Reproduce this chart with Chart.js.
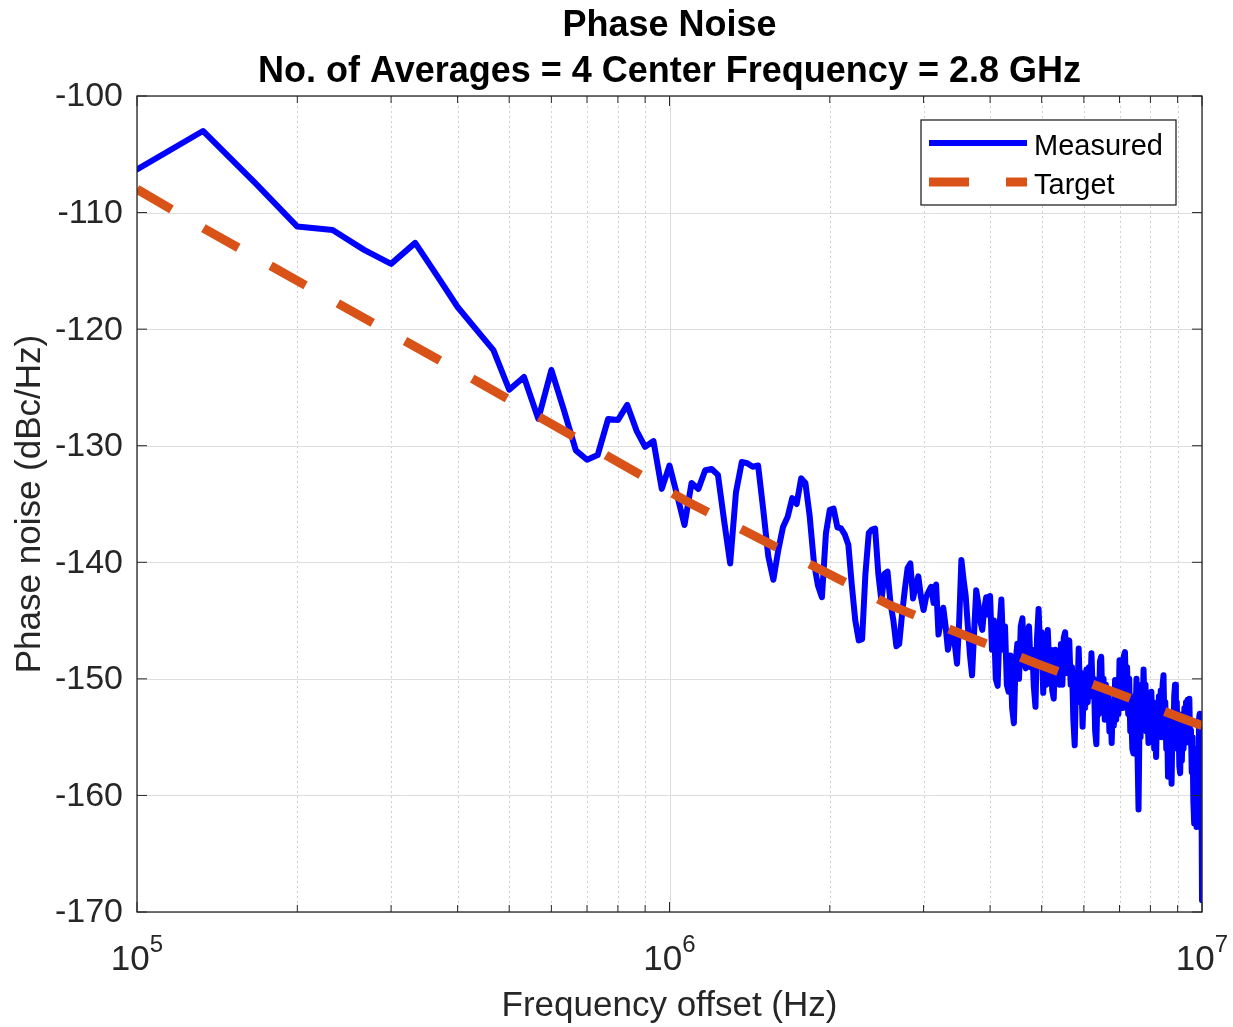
<!DOCTYPE html>
<html>
<head>
<meta charset="utf-8">
<script src="https://cdn.jsdelivr.net/npm/chart.js@4.4.1/dist/chart.umd.min.js"></script>
<style>
  html, body { margin: 0; padding: 0; background: #fff; }
  #wrap { width: 1233px; height: 1027px; position: relative; }
</style>
</head>
<body>
<div id="wrap"><canvas id="pnChart"></canvas></div>
<script>
const titleLines = ["Phase Noise", "No. of Averages = 4 Center Frequency = 2.8 GHz"];
const xAxisTitle = "Frequency offset (Hz)";
const yAxisTitle = "Phase noise (dBc/Hz)";

const xMajorTicks = [1e5, 1e6, 1e7];
const xMinorTicks = [2e5, 3e5, 4e5, 5e5, 6e5, 7e5, 8e5, 9e5, 2e6, 3e6, 4e6, 5e6, 6e6, 7e6, 8e6, 9e6];
const yTicks = [-100, -110, -120, -130, -140, -150, -160, -170];

// Measured trace, frequency offset in kHz
const measuredKHz = [
  100, 133, 167, 200, 233, 267, 300, 333, 367, 400, 433, 467, 500, 533, 567, 600,
  633, 667, 700, 733, 767, 800, 833, 867, 900, 933, 967, 1000, 1033, 1067, 1100, 1133,
  1167, 1200, 1233, 1267, 1300, 1333, 1367, 1400, 1433, 1467, 1500, 1533, 1567, 1600, 1633, 1667,
  1700, 1733, 1767, 1800, 1833, 1867, 1900, 1933, 1967, 2000, 2033, 2067, 2100, 2133, 2167, 2200,
  2233, 2267, 2300, 2333, 2367, 2400, 2433, 2467, 2500, 2533, 2567, 2600, 2633, 2667, 2700, 2733,
  2767, 2800, 2833, 2867, 2900, 2933, 2967, 3000, 3033, 3067, 3100, 3133, 3167, 3200, 3233, 3267,
  3300, 3333, 3367, 3400, 3433, 3467, 3500, 3533, 3567, 3600, 3633, 3667, 3700, 3733, 3767, 3800,
  3833, 3867, 3900, 3933, 3967, 4000, 4033, 4067, 4100, 4133, 4167, 4200, 4233, 4267, 4300, 4333,
  4367, 4400, 4433, 4467, 4500, 4533, 4567, 4600, 4633, 4667, 4700, 4733, 4767, 4800, 4833, 4867,
  4900, 4933, 4967, 5000, 5033, 5067, 5100, 5133, 5167, 5200, 5233, 5267, 5300, 5333, 5367, 5400,
  5433, 5467, 5500, 5533, 5567, 5600, 5633, 5667, 5700, 5733, 5767, 5800, 5833, 5867, 5900, 5933,
  5967, 6000, 6033, 6067, 6100, 6133, 6167, 6200, 6233, 6267, 6300, 6333, 6367, 6400, 6433, 6467,
  6500, 6533, 6567, 6600, 6633, 6667, 6700, 6733, 6767, 6800, 6833, 6867, 6900, 6933, 6967, 7000,
  7033, 7067, 7100, 7133, 7167, 7200, 7233, 7267, 7300, 7333, 7367, 7400, 7433, 7467, 7500, 7533,
  7567, 7600, 7633, 7667, 7700, 7733, 7767, 7800, 7833, 7867, 7900, 7933, 7967, 8000, 8033, 8067,
  8100, 8133, 8167, 8200, 8233, 8267, 8300, 8333, 8367, 8400, 8433, 8467, 8500, 8533, 8567, 8600,
  8633, 8667, 8700, 8733, 8767, 8800, 8833, 8867, 8900, 8933, 8967, 9000, 9033, 9067, 9100, 9133,
  9167, 9200, 9233, 9267, 9300, 9333, 9367, 9400, 9433, 9467, 9500, 9533, 9567, 9600, 9633, 9667,
  9700, 9733, 9767, 9800, 9833, 9867, 9900, 9933, 9967, 10000
];
const measuredDb = [
  -106.3, -103.0, -107.5, -111.2, -111.5, -113.2, -114.4, -112.6, -115.5, -118.1, -120.0, -121.8, -125.2, -124.1, -127.7, -123.5,
  -126.9, -130.4, -131.2, -130.8, -127.7, -127.8, -126.5, -128.7, -130.1, -129.6, -133.7, -131.7, -134.2, -136.8, -133.2, -133.7,
  -132.1, -132.0, -132.5, -136.5, -140.1, -134.0, -131.4, -131.5, -131.8, -131.7, -135.5, -139.5, -141.5, -139.0, -137.0, -136.1,
  -134.5, -135.0, -132.8, -133.2, -136.0, -140.0, -142.0, -143.0, -137.5, -135.5, -135.4, -137.0, -137.1, -137.6, -138.5, -142.0,
  -145.0, -146.7, -146.6, -141.0, -137.5, -137.2, -137.1, -141.0, -143.3, -141.0, -140.8, -143.5, -145.0, -147.2, -147.0, -144.5,
  -142.3, -140.5, -140.1, -143.1, -142.0, -141.2, -143.0, -144.1, -143.0, -142.5, -142.1, -143.5, -141.9, -146.2, -145.0, -143.9,
  -145.5, -147.5, -146.5, -146.1, -147.0, -148.7, -145.0, -139.8, -141.5, -142.9, -145.5, -148.0, -149.7, -146.0, -142.4, -143.5,
  -145.0, -145.8, -144.0, -143.0, -144.5,
  -142.9, -147.5, -145.0, -150.0, -150.6, -145.5, -143.2, -147.5, -145.5, -150.5, -151.1, -148.0, -152.5, -153.8, -148.5, -147.0,
  -150.0, -145.5, -144.8, -148.5, -149.1, -146.0, -145.5, -149.0, -147.5, -150.7, -152.4, -146.5, -144.0, -147.5,
  -146.0, -151.2, -148.0, -150.5, -145.8, -149.0, -147.5, -151.0, -151.7, -147.5, -150.0, -148.1, -150.5, -147.0, -150.5, -146.5,
  -146.0, -149.5, -147.5, -146.7, -150.5, -149.0, -153.5, -155.7, -150.5, -152.0, -147.4, -151.0, -149.5, -154.1,
  -150.5, -152.5, -149.2, -152.0, -149.0, -151.5, -147.8, -151.0, -150.0, -154.5, -155.6, -151.0, -153.0, -148.5, -148.1, -152.0,
  -150.0, -153.5, -150.5, -152.5, -151.0, -154.5, -152.5, -155.5, -152.0, -154.0, -150.1, -153.5, -151.0, -153.0,
  -148.4, -152.0, -149.5, -152.5, -148.0, -147.7, -151.5, -149.0, -153.0, -150.0, -154.5, -153.3, -156.0, -156.4, -151.5, -153.5,
  -150.0, -156.5, -161.2, -153.5, -155.0, -150.5, -153.0, -149.2, -152.5, -150.5, -154.5, -152.0, -155.5, -152.5,
  -154.0, -151.1, -154.5, -152.0, -156.0, -153.5, -156.7, -153.0, -155.0, -151.5, -154.0, -151.0, -155.0, -150.5, -149.7, -154.0,
  -152.0, -156.0, -153.5, -158.4, -154.0, -156.5, -153.0, -159.0, -154.0, -156.0, -151.5, -150.5, -154.5, -152.0,
  -156.0, -153.5, -157.5, -158.1, -154.0, -157.0, -153.0, -156.0, -152.5, -155.5, -152.0, -154.5, -151.8, -155.0, -151.7, -155.5,
  -154.4, -158.0, -155.0, -160.5, -162.4, -157.0, -160.0, -162.7, -156.0, -158.0, -153.5, -153.0, -157.0, -155.0, -169.0
];

// Target mask, frequency offset in kHz
const targetKHz = [100, 134, 440, 1070, 2600, 3600, 4900, 6800, 9200, 10000];
const targetDb = [-108.0, -111.4, -124.6, -134.7, -143.7, -146.3, -148.7, -151.1, -153.4, -154.0];

const FONT = '"Liberation Sans", Arial, Helvetica, sans-serif';
const AXIS_COLOR = '#262626';
const BLUE = '#0000ff';
const ORANGE = '#d95319';
const TARGET_DASH = [40, 37];

const toPoints = (kHz, db) => kHz.map((f, i) => ({ x: f * 1000, y: db[i] }));

function strokeLine(ctx, x1, y1, x2, y2) {
  ctx.beginPath();
  ctx.moveTo(x1, y1);
  ctx.lineTo(x2, y2);
  ctx.stroke();
}

// grid, box, ticks, labels and legend drawn MATLAB style
const matlabFrame = {
  id: 'matlabFrame',
  beforeDatasetsDraw(chart) {
    const { ctx, chartArea: a, scales: { x, y } } = chart;
    ctx.save();
    ctx.lineWidth = 1;
    ctx.strokeStyle = '#cfcfcf';
    ctx.setLineDash([2, 3]);
    xMinorTicks.forEach(v => {
      const px = Math.round(x.getPixelForValue(v)) + 0.5;
      strokeLine(ctx, px, a.top, px, a.bottom);
    });
    ctx.setLineDash([]);
    ctx.strokeStyle = '#dedede';
    xMajorTicks.forEach(v => {
      const px = Math.round(x.getPixelForValue(v)) + 0.5;
      strokeLine(ctx, px, a.top, px, a.bottom);
    });
    yTicks.forEach(v => {
      const py = Math.round(y.getPixelForValue(v)) + 0.5;
      strokeLine(ctx, a.left, py, a.right, py);
    });
    ctx.restore();
  },
  afterDatasetsDraw(chart) {
    const { ctx, chartArea: a, scales: { x, y } } = chart;
    ctx.save();

    // axes box
    ctx.strokeStyle = AXIS_COLOR;
    ctx.lineWidth = 1.3;
    ctx.strokeRect(a.left, a.top, a.right - a.left, a.bottom - a.top);

    // tick marks (inside, all four sides)
    ctx.lineWidth = 1;
    yTicks.forEach(v => {
      const py = y.getPixelForValue(v);
      strokeLine(ctx, a.left, py, a.left + 10, py);
      strokeLine(ctx, a.right, py, a.right - 10, py);
    });
    xMajorTicks.forEach(v => {
      const px = x.getPixelForValue(v);
      strokeLine(ctx, px, a.bottom, px, a.bottom - 10);
      strokeLine(ctx, px, a.top, px, a.top + 10);
    });
    xMinorTicks.forEach(v => {
      const px = x.getPixelForValue(v);
      strokeLine(ctx, px, a.bottom, px, a.bottom - 7);
      strokeLine(ctx, px, a.top, px, a.top + 7);
    });

    // y tick labels
    ctx.fillStyle = AXIS_COLOR;
    ctx.font = '34px ' + FONT;
    ctx.textAlign = 'right';
    ctx.textBaseline = 'middle';
    yTicks.forEach(v => {
      ctx.fillText(String(v), a.left - 14, y.getPixelForValue(v) + 1);
    });

    // x tick labels as 10^n
    ctx.textAlign = 'left';
    ctx.textBaseline = 'alphabetic';
    xMajorTicks.forEach(v => {
      const px = x.getPixelForValue(v);
      const exp = String(Math.round(Math.log10(v)));
      ctx.font = '35px ' + FONT;
      const wBase = ctx.measureText('10').width;
      ctx.font = '24px ' + FONT;
      const wExp = ctx.measureText(exp).width;
      const start = px - (wBase + wExp) / 2;
      ctx.font = '35px ' + FONT;
      ctx.fillText('10', start, a.bottom + 58);
      ctx.font = '24px ' + FONT;
      ctx.fillText(exp, start + wBase, a.bottom + 40);
    });

    // axis titles
    ctx.fillStyle = AXIS_COLOR;
    ctx.font = '35px ' + FONT;
    ctx.textAlign = 'center';
    ctx.fillText(xAxisTitle, (a.left + a.right) / 2, a.bottom + 104);
    ctx.save();
    ctx.translate(40, (a.top + a.bottom) / 2);
    ctx.rotate(-Math.PI / 2);
    ctx.fillText(yAxisTitle, 0, 0);
    ctx.restore();

    // chart title
    ctx.fillStyle = '#000';
    ctx.font = 'bold 36px ' + FONT;
    ctx.fillText(titleLines[0], (a.left + a.right) / 2, 36);
    ctx.fillText(titleLines[1], (a.left + a.right) / 2, 82);

    // legend
    const lg = { left: 921, top: 120, right: 1176, bottom: 205 };
    ctx.fillStyle = '#fff';
    ctx.fillRect(lg.left, lg.top, lg.right - lg.left, lg.bottom - lg.top);
    ctx.strokeStyle = AXIS_COLOR;
    ctx.lineWidth = 1.3;
    ctx.strokeRect(lg.left, lg.top, lg.right - lg.left, lg.bottom - lg.top);
    const rows = [143, 182];
    chart.data.datasets.forEach((ds, i) => {
      const ly = rows[i];
      ctx.strokeStyle = ds.borderColor;
      ctx.lineWidth = ds.legendWidth;
      ctx.lineCap = 'butt';
      ctx.setLineDash(ds.borderDash || []);
      strokeLine(ctx, 929, ly, 1027, ly);
      ctx.setLineDash([]);
      ctx.fillStyle = '#000';
      ctx.font = '29px ' + FONT;
      ctx.textAlign = 'left';
      ctx.textBaseline = 'middle';
      ctx.fillText(ds.label, 1034, ly + 4);
    });

    ctx.restore();
  }
};

const ctx = document.getElementById('pnChart').getContext('2d');

new Chart(ctx, {
  type: 'line',
  data: {
    datasets: [
      {
        label: 'Measured',
        data: toPoints(measuredKHz, measuredDb),
        borderColor: BLUE,
        borderWidth: 6,
        legendWidth: 6,
        borderJoinStyle: 'round',
        borderCapStyle: 'round',
        pointRadius: 0,
        tension: 0,
        order: 2
      },
      {
        label: 'Target',
        data: toPoints(targetKHz, targetDb),
        borderColor: ORANGE,
        borderWidth: 9,
        legendWidth: 9,
        borderDash: TARGET_DASH,
        borderCapStyle: 'butt',
        pointRadius: 0,
        tension: 0,
        order: 1
      }
    ]
  },
  options: {
    responsive: true,
    maintainAspectRatio: false,
    animation: false,
    layout: { padding: { left: 137, right: 31, top: 96, bottom: 115 } },
    plugins: {
      legend: { display: false },
      tooltip: { enabled: false }
    },
    scales: {
      x: { type: 'logarithmic', min: 1e5, max: 1e7, display: false },
      y: { type: 'linear', min: -170, max: -100, display: false }
    }
  },
  plugins: [matlabFrame]
});
</script>
</body>
</html>
